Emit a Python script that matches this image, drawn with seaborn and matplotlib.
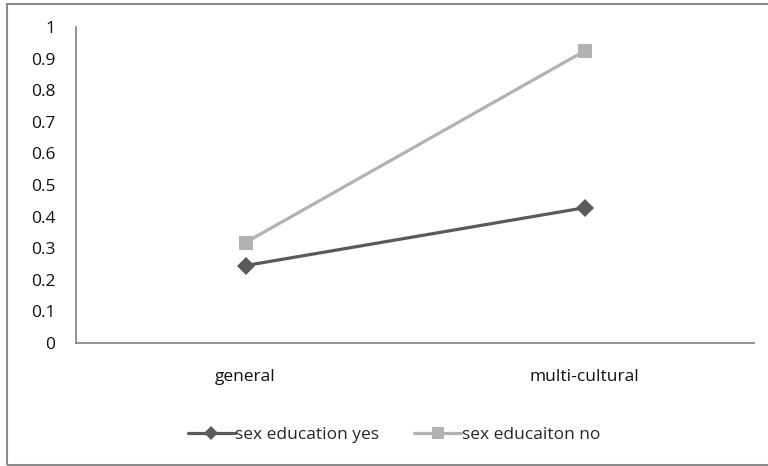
import matplotlib
matplotlib.use('Agg')
import matplotlib.pyplot as plt
import seaborn as sns
import pandas as pd
from matplotlib.patches import Rectangle

categories = ['general', 'multi-cultural']
series_names = ['sex education yes', 'sex educaiton no']
yes_values = [0.245, 0.428]
no_values = [0.318, 0.924]

df = pd.DataFrame({
    'category': categories * 2,
    'value': yes_values + no_values,
    'series': [series_names[0]] * 2 + [series_names[1]] * 2,
})

sns.set_style('white')
plt.rcParams['font.family'] = ['Open Sans', 'DejaVu Sans']

fig = plt.figure(figsize=(7.68, 4.66), dpi=100)
ax = fig.add_axes([76 / 768, 1 - 343 / 466, (754 - 76) / 768, (343 - 27) / 466])

palette = {series_names[0]: '#5a5a5a', series_names[1]: '#b2b2b2'}
markers = {series_names[0]: 'D', series_names[1]: 's'}
sns.lineplot(data=df, x='category', y='value', hue='series', style='series',
             palette=palette, markers=markers, dashes=False, linewidth=2.3,
             markersize=10, markeredgewidth=0, sort=False, ax=ax)
# diamonds a bit smaller than the squares
for line in ax.get_lines():
    if line.get_marker() == 'D':
        line.set_markersize(9.5)
    elif line.get_marker() == 's':
        line.set_markersize(10.5)

ax.set_xlim(-0.5, 1.5)
ax.set_ylim(0, 1)
ax.set_yticks([i / 10 for i in range(11)])
ax.set_yticklabels(['0'] + [f'0.{i}' for i in range(1, 10)] + ['1'])
ax.set_xlabel('')
ax.set_ylabel('')
ax.tick_params(axis='both', length=0, labelsize=12.5, colors='#111111')
ax.tick_params(axis='y', pad=15)
ax.tick_params(axis='x', pad=19)
for side in ['top', 'right']:
    ax.spines[side].set_visible(False)
for side in ['left', 'bottom']:
    ax.spines[side].set_color('#8a8a8a')
    ax.spines[side].set_linewidth(1.3)

handles, labels = ax.get_legend_handles_labels()
for h in handles:
    if h.get_marker() == 'D':
        h.set_markersize(7)
    else:
        h.set_markersize(8)
ax.legend(handles, labels, loc='center', bbox_to_anchor=(394 / 768, 1 - 435 / 466),
          bbox_transform=fig.transFigure, ncol=2, frameon=False, fontsize=12.5,
          handlelength=2.7, handletextpad=0.05, columnspacing=2.0)

fig.patches.append(Rectangle((7 / 768, 1 - 465 / 466), 770 / 768, 461 / 466,
                             transform=fig.transFigure, fill=False,
                             edgecolor='#8c8c8c', linewidth=1.5))

fig.savefig('out.png', dpi=100)
